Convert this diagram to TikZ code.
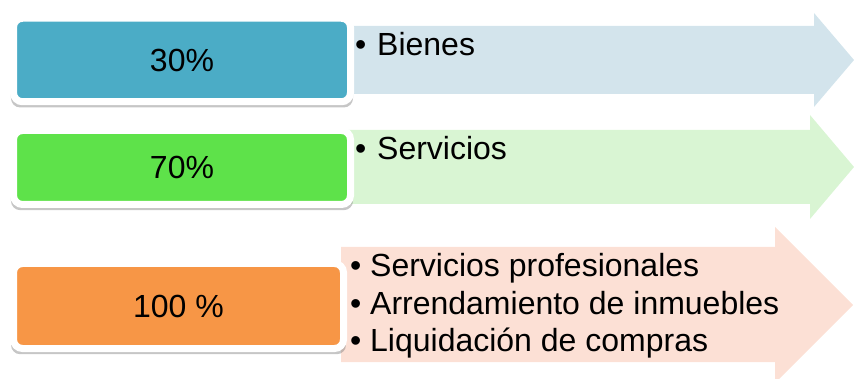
\documentclass[tikz,border=0pt]{standalone}
\usepackage{fontspec}
\setmainfont{Liberation Sans}
\usetikzlibrary{shadows}
\definecolor{tealbox}{HTML}{4BACC6}
\definecolor{greenbox}{HTML}{5EE24A}
\definecolor{orangebox}{HTML}{F79646}
\definecolor{bluearrow}{HTML}{D3E4EC}
\definecolor{greenarrow}{HTML}{D9F5D3}
\definecolor{peacharrow}{HTML}{FCE0D5}
\begin{document}
\begin{tikzpicture}[x=1pt, y=-1pt, font=\fontsize{32}{38}\selectfont,
    pctbox/.style={draw=white, line width=7pt, rounded corners=9pt, inner sep=0pt, drop shadow={shadow xshift=0pt, shadow yshift=-5pt, shadow scale=1.015, opacity=0.45}},
    item/.style={anchor=base west, inner sep=0pt}]
    \useasboundingbox (0,0) rectangle (854,379);
    % arrows behind the boxes
    \fill[bluearrow] (347,26) -- (814,26) -- (814,13) -- (854,60) -- (814,107) -- (814,94) -- (347,94) -- cycle;
    \fill[greenarrow] (347,130) -- (810,130) -- (810,115) -- (854,167) -- (810,219) -- (810,204) -- (347,204) -- cycle;
    \fill[peacharrow] (341,247) -- (775,247) -- (775,227) -- (853,305) -- (775,383) -- (775,362) -- (341,362) -- cycle;

    % percentage boxes
    \node[pctbox, fill=tealbox, minimum width=337pt, minimum height=83.5pt] (bienesbox) at (182,60) {30\%};
    \node[pctbox, fill=greenbox, minimum width=337pt, minimum height=74pt] (serviciosbox) at (182,167.5) {70\%};
    \node[pctbox, fill=orangebox, minimum width=330pt, minimum height=85pt] (totalbox) at (178.5,306) {100 \%};

    % bullet texts
    \node[item] (bienes) at (355,56) {\makebox[22pt][l]{•}Bienes};
    \node[item] (servicios) at (355,160) {\makebox[22pt][l]{•}Servicios};
    \node[item] (profesionales) at (350,277) {\makebox[20pt][l]{•}Servicios profesionales};
    \node[item] (arrendamiento) at (350,315) {\makebox[20pt][l]{•}Arrendamiento de inmuebles};
    \node[item] (liquidacion) at (350,352) {\makebox[20pt][l]{•}Liquidación de compras};
\end{tikzpicture}
\end{document}
